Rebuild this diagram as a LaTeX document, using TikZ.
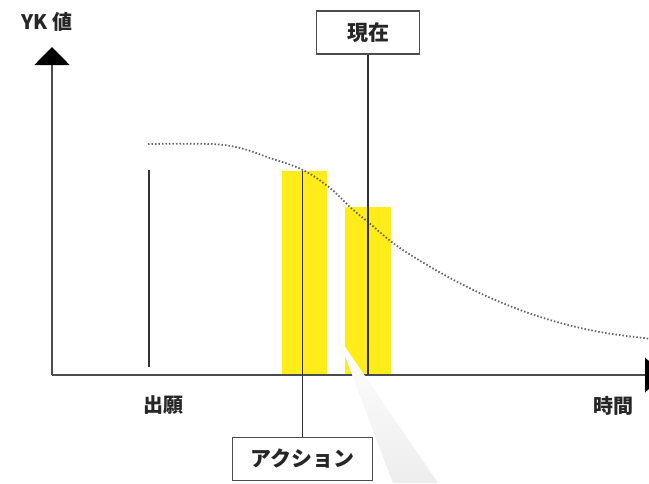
\documentclass[tikz,border=0pt]{standalone}
\usepackage{fontspec}
\setmainfont{Noto Sans CJK JP}
\usetikzlibrary{arrows.meta}
\definecolor{barYellow}{RGB}{255,236,25}

\begin{document}
\begin{tikzpicture}[x=1pt,y=-1pt,
        axis/.style={line width=2pt,black!70,-{Triangle[width=35pt,length=18pt,color=black]}},
        marker/.style={line width=1.6pt,black!80},
        label/.style={font=\bfseries\fontsize{20}{20}\selectfont,text=black!85,inner sep=0pt},
        tag/.style={draw=black!70,line width=1.3pt,fill=white,text=black!85,font=\bfseries\fontsize{21}{21}\selectfont,minimum height=43pt}]
\useasboundingbox (0,0) rectangle (649,483);

\coordinate (origin) at (52,375);
\coordinate (ytop) at (52,47);
\coordinate (xend) at (663,375);

% Balken
\fill[barYellow] (282,171) rectangle (327,375);
\fill[barYellow] (345,207) rectangle (391,375);

\draw[black!60,line width=1.8pt,dash pattern=on 1.5pt off 2pt]
        plot[smooth,tension=0.6] coordinates {(148,144) (210,144) (240,148) (270,158) (303,170) (330,188) (350,207) (368,222) (400,248) (450,278) (500,302) (550,320) (600,332) (652,339)};

\draw[axis] (origin) -- (ytop);
\draw[axis] (origin) -- (xend);

\coordinate (filingtop) at (149,170);
\coordinate (filingbase) at (149,367);
\draw[marker] (filingtop) -- (filingbase);

\node[tag,minimum width=103pt] (now) at (368,32.5) {現在};
\coordinate (nowbase) at (368,375);
\draw[marker] (now.south) -- (nowbase);

\node[tag,minimum width=140pt] (action) at (302.5,459) {アクション};
\coordinate (actiontop) at (302.5,171);
\draw[marker] (actiontop) -- (action.north);

\shade[top color=white,middle color=black!5,bottom color=black!7] (337,335) -- (393,483) -- (438,483) -- cycle;

\node[label] (yk) at (47,22) {YK 値};
\node[label] (filing) at (163,405) {出願};
\node[label] (time) at (613,406) {時間};
\end{tikzpicture}
\end{document}
